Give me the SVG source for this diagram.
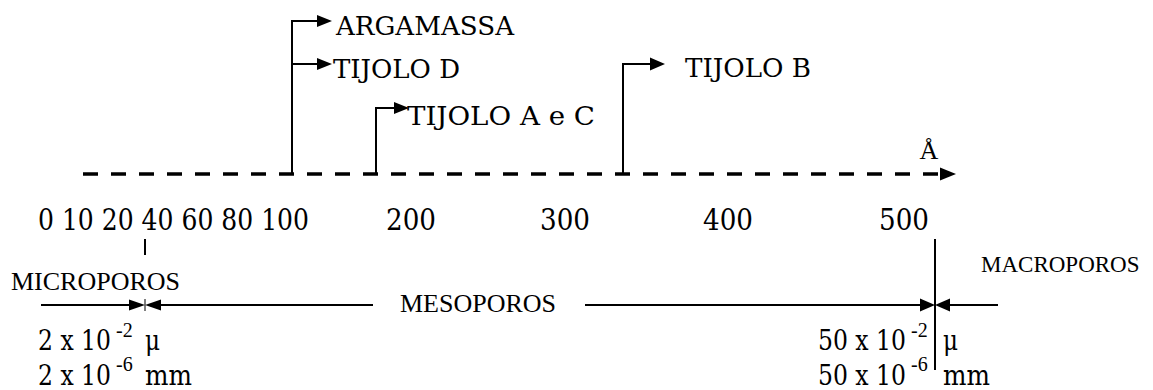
<svg xmlns="http://www.w3.org/2000/svg" width="1153" height="390" viewBox="0 0 1153 390">
  <style>
    text { font-family: "Liberation Serif", "Times New Roman", serif; fill: #000; }
    /* larger lettering uses DejaVu Serif, fitted to Times widths */
    .mtxt, .stxt, .vtxt { font-family: "DejaVu Serif", "Liberation Serif", serif; }
    .mtxt { font-size: 26.3px; }
    .stxt { font-size: 30px; }
    .vtxt { font-size: 27.2px; }
    .ptxt { font-size: 26px; }
    .etxt { font-size: 20px; }
    .ln { stroke: #000; stroke-width: 2; fill: none; }
    .head { fill: #000; }
  </style>
  <rect width="1153" height="390" fill="#fff"/>

  <!-- pore-size axis in angstrom -->
  <g id="axis">
    <line x1="83" y1="174" x2="940" y2="174" stroke="#000" stroke-width="3.5" stroke-dasharray="15 13"/>
    <polygon class="head" points="940,167.5 956,174 940,180.5"/>
    <text class="ptxt" x="929" y="159" text-anchor="middle">Å</text>
  </g>

  <g id="scale">
    <text class="stxt" x="38" y="230" textLength="271" lengthAdjust="spacingAndGlyphs">0 10 20 40 60 80 100</text>
    <text class="stxt" x="386" y="230" textLength="50" lengthAdjust="spacingAndGlyphs">200</text>
    <text class="stxt" x="540" y="230" textLength="50" lengthAdjust="spacingAndGlyphs">300</text>
    <text class="stxt" x="703" y="230" textLength="50" lengthAdjust="spacingAndGlyphs">400</text>
    <text class="stxt" x="879" y="230" textLength="50" lengthAdjust="spacingAndGlyphs">500</text>
  </g>

  <!-- material markers -->
  <g id="argamassa">
    <text class="mtxt" x="336" y="35" textLength="178" lengthAdjust="spacingAndGlyphs">ARGAMASSA</text>
  </g>
  <g id="tijolo-d">
    <text class="mtxt" x="333" y="78" textLength="127" lengthAdjust="spacingAndGlyphs">TIJOLO D</text>
  </g>
  <g id="tijolo-ac">
    <text class="mtxt" x="407" y="125" textLength="188" lengthAdjust="spacingAndGlyphs">TIJOLO A e  C</text>
  </g>
  <g id="tijolo-b">
    <text class="mtxt" x="685" y="77" textLength="126" lengthAdjust="spacingAndGlyphs">TIJOLO B</text>
  </g>

  <!-- pore classes -->
  <g id="microporos">
    <text class="ptxt" x="11" y="290">MICROPOROS</text>
  </g>
  <g id="mesoporos">
    <text class="ptxt" x="400" y="312">MESOPOROS</text>
  </g>
  <g id="macroporos">
    <text x="981" y="272" font-size="23">MACROPOROS</text>
  </g>

  <g id="limit-micro">
    <text class="vtxt" x="38" y="350" textLength="73" lengthAdjust="spacingAndGlyphs">2 x 10</text>
    <text class="etxt" x="116" y="337">-2</text>
    <text class="vtxt" x="145" y="350" textLength="15" lengthAdjust="spacingAndGlyphs">μ</text>
    <text class="vtxt" x="38" y="385" textLength="73" lengthAdjust="spacingAndGlyphs">2 x 10</text>
    <text class="etxt" x="116" y="371">-6</text>
    <text class="vtxt" x="145" y="385" textLength="47" lengthAdjust="spacingAndGlyphs">mm</text>
  </g>
  <g id="limit-macro">
    <text class="vtxt" x="818" y="350" textLength="88" lengthAdjust="spacingAndGlyphs">50 x 10</text>
    <text class="etxt" x="911" y="337">-2</text>
    <text class="vtxt" x="943" y="350" textLength="15" lengthAdjust="spacingAndGlyphs">μ</text>
    <text class="vtxt" x="818" y="385" textLength="88" lengthAdjust="spacingAndGlyphs">50 x 10</text>
    <text class="etxt" x="911" y="371">-6</text>
    <text class="vtxt" x="943" y="385" textLength="47" lengthAdjust="spacingAndGlyphs">mm</text>
  </g>

  <!-- connectors -->
  <g id="connectors">
    <!-- argamassa / tijolo D stem -->
    <polyline class="ln" points="292,174 292,21 318,21"/>
    <polygon class="head" points="317,15 332,21 317,27"/>
    <line class="ln" x1="292" y1="64" x2="318" y2="64"/>
    <polygon class="head" points="317,58 332,64 317,70"/>
    <!-- tijolo A e C -->
    <polyline class="ln" points="376,174 376,108 395,108"/>
    <polygon class="head" points="394,102 409,108 394,114"/>
    <!-- tijolo B -->
    <polyline class="ln" points="623,174 623,64 651,64"/>
    <polygon class="head" points="650,57.5 665,64 650,70.5"/>

    <!-- class boundaries -->
    <line class="ln" x1="145" y1="239" x2="145" y2="255"/>
    <line class="ln" x1="935" y1="239" x2="935" y2="370"/>

    <!-- dimension line -->
    <line class="ln" x1="41" y1="305" x2="130" y2="305"/>
    <polygon class="head" points="129,299.5 145,305 129,310.5"/>
    <line x1="145" y1="299" x2="145" y2="311" stroke="#000" stroke-width="1"/>
    <polygon class="head" points="161,299.5 145,305 161,310.5"/>
    <line class="ln" x1="160" y1="305" x2="373" y2="305"/>
    <line class="ln" x1="585" y1="305" x2="921" y2="305"/>
    <polygon class="head" points="920,298.5 935,305 920,311.5"/>
    <polygon class="head" points="950,298.5 935,305 950,311.5"/>
    <line class="ln" x1="949" y1="305" x2="998" y2="305"/>
  </g>
</svg>
